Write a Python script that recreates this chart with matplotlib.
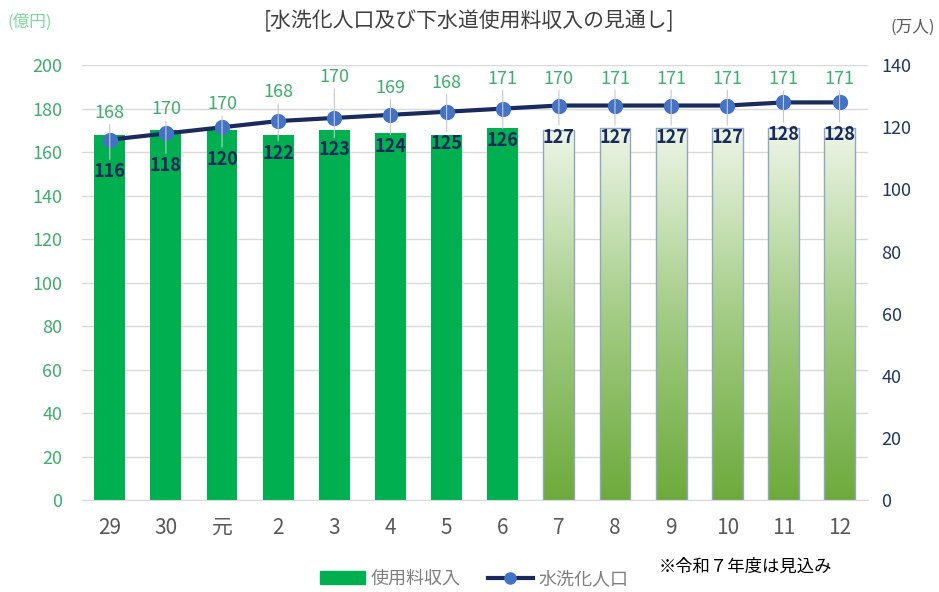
import matplotlib.pyplot as plt
import numpy as np
from matplotlib.colors import LinearSegmentedColormap

plt.rcParams['font.family'] = ['Noto Sans CJK JP', 'DejaVu Sans']

# data
years = ['29', '30', '元', '2', '3', '4', '5', '6', '7', '8', '9', '10', '11', '12']
revenue = [168, 170, 170, 168, 170, 169, 168, 171, 170, 171, 171, 171, 171, 171]
population = [116, 118, 120, 122, 123, 124, 125, 126, 127, 127, 127, 127, 128, 128]
n_actual = 8  # bars after this are estimates (gradient)

# label placement (pixels above each line marker), as hand-placed in the source
rev_label_offset = [27, 24, 23, 29, 41, 27, 29, 30, 27, 27, 27, 27, 23, 23]

green = '#00B050'
tick_green = '#3DAE6B'
navy = '#1B2A5C'
marker_blue = '#4472C4'
right_col = '#1F3864'

fig = plt.figure(figsize=(9.39, 5.92), dpi=100)
ax = fig.add_axes([0.087, 0.155, 0.837, 0.735])
ax2 = ax.twinx()

x = np.arange(len(years))
bars = ax.bar(x, revenue, width=0.55, color=green, zorder=2)

# gradient bars for projections
cmap = LinearSegmentedColormap.from_list('g', ['#6DAA3C', '#A3CC85', '#EEF6E8'])
grad = np.linspace(0, 1, 256).reshape(-1, 1)
for i, b in enumerate(bars):
    if i < n_actual:
        continue
    b.set_facecolor('none')
    b.set_edgecolor('#8FA7BF')
    b.set_linewidth(1.0)
    b.set_zorder(3)
    x0, w, h = b.get_x(), b.get_width(), b.get_height()
    im = ax.imshow(grad, cmap=cmap, aspect='auto', origin='lower',
                   extent=[x0, x0 + w, 0, h], zorder=2)
    im.set_clip_path(b)

ax.set_xlim(-0.5, len(years) - 0.5)
ax.set_ylim(0, 200)
ax.set_yticks(range(0, 201, 20))
ax.grid(axis='y', color='#D9D9D9', linewidth=1, zorder=0)
ax.set_axisbelow(True)
ax.set_xticks(x)
ax.set_xticklabels(years)
ax.tick_params(axis='x', length=0, labelsize=15, colors='#595959', pad=12)
ax.tick_params(axis='y', length=0, labelsize=13, colors=tick_green, pad=14)
for s in ax.spines.values():
    s.set_visible(False)
for s in ax2.spines.values():
    s.set_visible(False)
ax.spines['bottom'].set_visible(True)
ax.spines['bottom'].set_color('#D9D9D9')

ax2.plot(x, population, color=navy, linewidth=3, marker='o', markersize=10,
         markerfacecolor=marker_blue, markeredgecolor=marker_blue, zorder=5)
ax2.set_ylim(0, 140)
ax2.set_yticks(range(0, 141, 20))
ax2.tick_params(axis='y', length=0, labelsize=13, colors=right_col, pad=10)

leader = dict(arrowstyle='-', color='#C8C8C8', linewidth=0.8, shrinkA=0, shrinkB=0)
for i, v in enumerate(population):
    ax2.annotate(str(v), (x[i], v), xytext=(0, -32), textcoords='offset pixels',
                 ha='center', va='center', color=navy, fontsize=13, fontweight='bold',
                 arrowprops=leader, zorder=6)
    ax2.annotate(str(revenue[i]), (x[i], v), xytext=(0, rev_label_offset[i]),
                 textcoords='offset pixels', ha='center', va='center',
                 color=tick_green, fontsize=13, arrowprops=leader, zorder=6)

ax.set_zorder(1)
ax2.set_zorder(2)
ax.patch.set_visible(False)

fig.text(0.5, 0.965, '[水洗化人口及び下水道使用料収入の見通し]', ha='center', va='center',
         fontsize=15, color='#404040')
fig.text(0.008, 0.962, '(億円)', ha='left', va='center', fontsize=12, color='#7FD6A0')
fig.text(0.996, 0.953, '(万人)', ha='right', va='center', fontsize=12, color='#595959')
fig.text(0.701, 0.042, '※令和７年度は見込み', ha='left', va='center',
         fontsize=12.5, color='#000000')

h1 = plt.Rectangle((0, 0), 1, 1, color=green)
h2, = ax2.plot([], [], color=navy, linewidth=3, marker='o', markersize=8,
               markerfacecolor=marker_blue, markeredgecolor=marker_blue)
fig.legend([h1, h2], ['使用料収入', '水洗化人口'], loc='center', bbox_to_anchor=(0.505, 0.022),
           ncol=2, frameon=False, fontsize=13, labelcolor='#7F7F7F',
           handlelength=2.5, handletextpad=0.3, columnspacing=1.5)

fig.savefig('out.png', dpi=100)
